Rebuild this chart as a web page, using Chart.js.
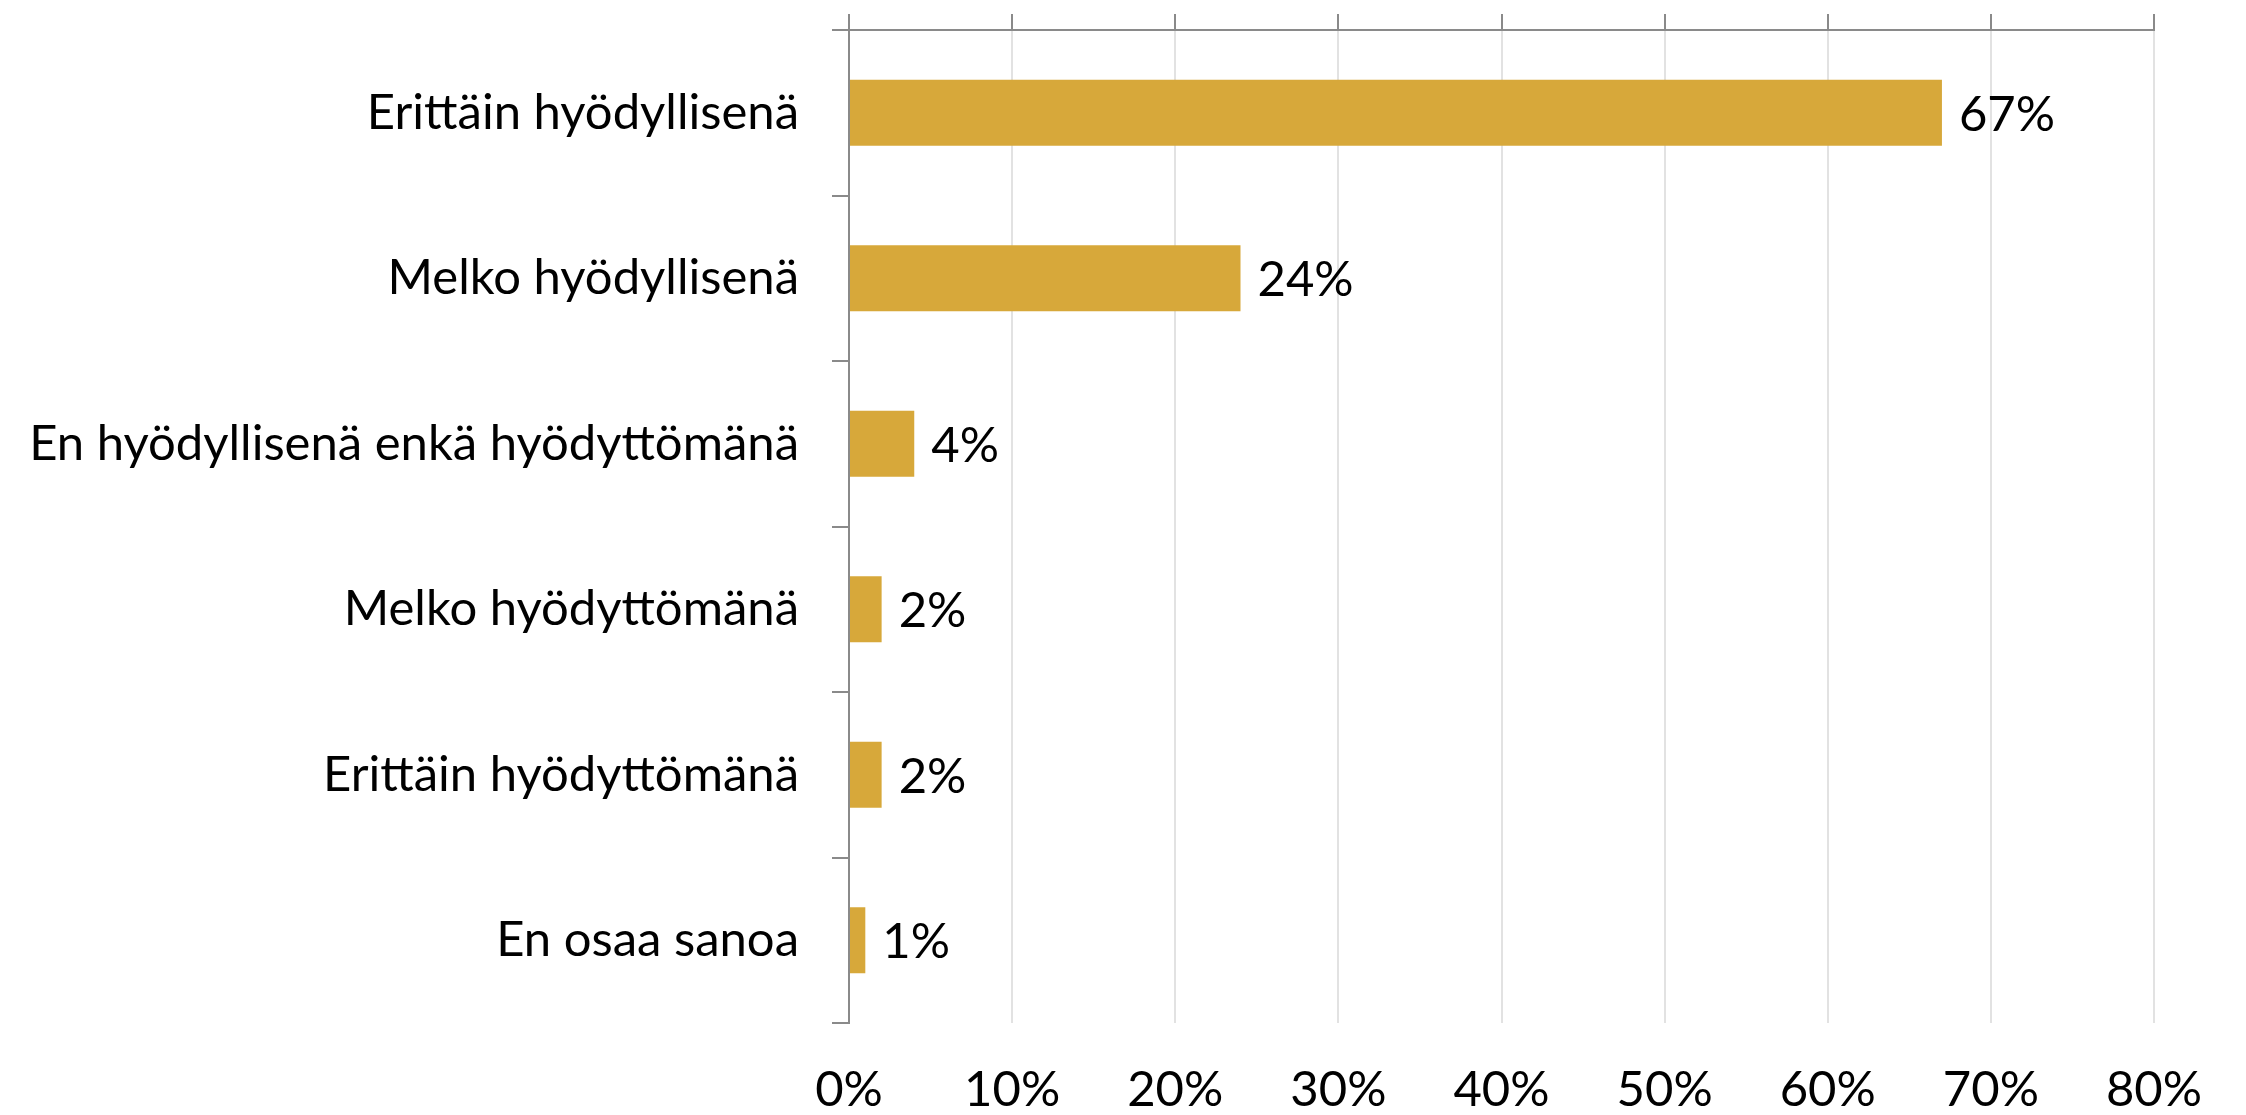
<!DOCTYPE html>
<html>
<head>
<meta charset="utf-8">
<script src="https://cdn.jsdelivr.net/npm/chart.js@4/dist/chart.umd.min.js"></script>
<style>
  html,body{margin:0;padding:0;background:#fff;}
  #wrap{width:2246px;height:1115px;position:relative;}
</style>
</head>
<body>
<div id="wrap"><canvas id="chart"></canvas></div>
<script>
// data
const categories=['Erittäin hyödyllisenä','Melko hyödyllisenä','En hyödyllisenä enkä hyödyttömänä','Melko hyödyttömänä','Erittäin hyödyttömänä','En osaa sanoa']
const shares=[67,24,4,2,2,1]
const xMin=0,xMax=80,xStep=10

const FONT='Lato'
const barColor='#D7A83A'
const axisGrey='#8a8a8a'

// draws the "67%" style labels at the end of every bar
const valueLabels={
  id:'valueLabels',
  afterDatasetsDraw(chart){
    const ctx=chart.ctx
    const meta=chart.getDatasetMeta(0)
    ctx.save()
    ctx.font='49px '+FONT
    ctx.fillStyle='#000'
    ctx.textBaseline='middle'
    ctx.textAlign='left'
    meta.data.forEach((bar,i)=>{
      ctx.fillText(chart.data.datasets[0].data[i]+'%',bar.x+17,bar.y+2)
    })
    ctx.restore()
  }
}

const ctx=document.getElementById('chart').getContext('2d')
new Chart(ctx,{
  type:'bar',
  data:{
    labels:categories,
    datasets:[{
      data:shares,
      backgroundColor:barColor,
      borderWidth:0,
      barPercentage:0.8,
      categoryPercentage:0.5,
      xAxisID:'x'
    }]
  },
  options:{
    indexAxis:'y',
    responsive:true,
    maintainAspectRatio:false,
    animation:false,
    layout:{padding:{top:14,right:92,left:0,bottom:0}},
    plugins:{legend:{display:false},tooltip:{enabled:false}},
    scales:{
      x:{
        position:'bottom',
        min:xMin,max:xMax,
        ticks:{stepSize:xStep,callback:v=>v+'%',color:'#000',font:{family:FONT,size:49},padding:38,maxRotation:0},
        grid:{color:'#e2e2e2',lineWidth:2,drawTicks:false},
        border:{display:false},
        afterFit(scale){scale.height=92}
      },
      xTop:{
        position:'top',
        min:xMin,max:xMax,
        ticks:{stepSize:xStep,display:false},
        grid:{drawOnChartArea:false,drawTicks:true,tickLength:16,color:axisGrey,lineWidth:2},
        border:{display:true,color:axisGrey,width:2}
      },
      y:{
        ticks:{color:'#000',font:{family:FONT,size:49},padding:33},
        grid:{drawOnChartArea:false,tickLength:17,color:axisGrey,lineWidth:2},
        border:{display:true,color:axisGrey,width:2},
        afterFit(scale){
          scale.width=849
          // labels sit in the middle of their bands, no extra room needed
          scale.paddingTop=0
          scale.paddingBottom=0
        }
      }
    }
  },
  plugins:[valueLabels]
})
</script>
</body>
</html>
